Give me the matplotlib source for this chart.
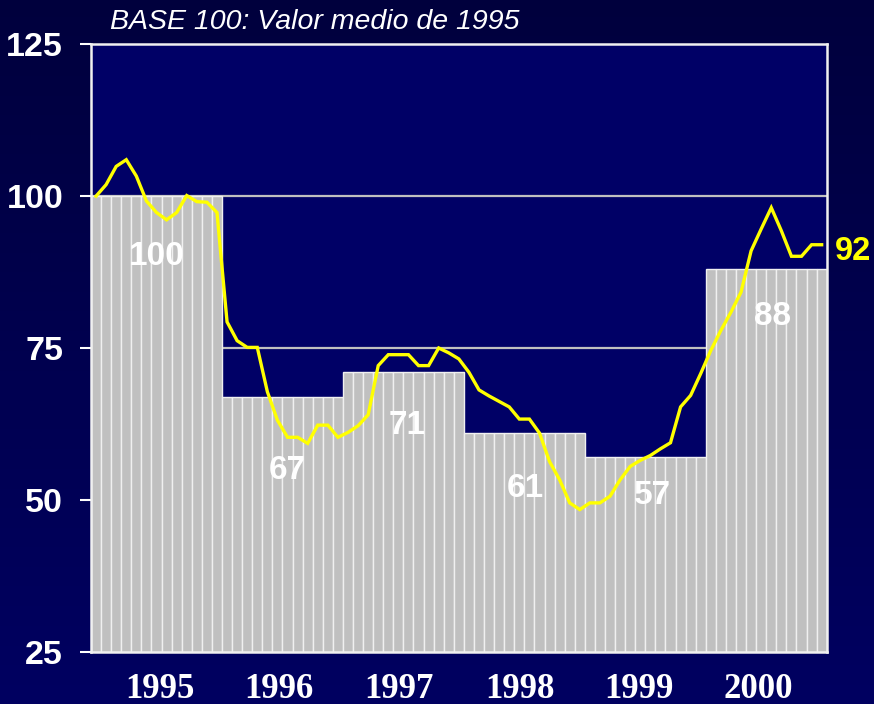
import numpy as np
import matplotlib
matplotlib.use("Agg")
import matplotlib.pyplot as plt

# ==========================================
# data
# ==========================================
years = ["1995", "1996", "1997", "1998", "1999", "2000"]
year_avg = [100, 67, 71, 61, 57, 88]
months_per_year = [13, 12, 12, 12, 12, 12]

# monthly index (yellow line), one point per bar
monthly = [100.0, 101.9, 104.9, 106.0, 103.3, 99.2, 97.3, 96.1, 97.3, 100.1, 99.1, 99.0, 97.3,
           79.3, 76.2, 75.1, 75.1, 67.8, 63.1, 60.3, 60.3, 59.3, 62.3, 62.3, 60.3,
           61.1, 62.2, 64.0, 72.1, 73.9, 73.9, 73.9, 72.1, 72.1, 75.0, 74.2, 73.2,
           71.0, 68.1, 67.1, 66.2, 65.3, 63.3, 63.3, 61.0, 56.3, 53.3, 49.5, 48.4,
           49.5, 49.5, 50.6, 53.3, 55.5, 56.5, 57.3, 58.4, 59.4, 65.3, 67.2, 70.8,
           74.6, 77.9, 80.9, 84.2, 91.0, 94.6, 98.1, 94.3, 90.1, 90.1, 92.0, 92.0]
last_label = "92"

title = "BASE 100: Valor medio de 1995"

# layout bits (not data)
label_y = [90.0, 54.8, 62.2, 51.8, 50.7, 80.2]
label_dx = [0.05, 0.5, 0.4, 0.05, 0.7, 0.65]
xtick_pos = [6.85, 18.65, 30.6, 42.6, 54.35, 66.25]

# ==========================================
# figure
# ==========================================
W, H = 874, 704
fig = plt.figure(figsize=(W / 100, H / 100), dpi=100)

# dark navy gradient background
bg = fig.add_axes([0, 0, 1, 1], zorder=-10)
grad = np.linspace(0, 1, 256).reshape(-1, 1)
top_c = np.array([0.0, 0.0, 0.24])
bot_c = np.array([0.0, 0.0, 0.38])
img = top_c + (bot_c - top_c) * grad[:, :, None]
bg.imshow(img, aspect="auto", extent=[0, 1, 0, 1], origin="upper")
bg.axis("off")

ax = fig.add_axes([91 / W, 1 - 651.7 / H, (826.7 - 91) / W, (651.7 - 44.3) / H])
ax.set_facecolor("#000066")

bar_vals = np.repeat(year_avg, months_per_year)
n = len(bar_vals)
x = np.arange(n)

# grid lines behind the bars
for g in [100, 75, 50]:
    ax.axhline(g, color="#c0c0c0", lw=1.6, zorder=1)

ax.bar(x + 0.5, bar_vals, width=1.0, color="#c0c0c0", edgecolor="#f0f0f0",
       linewidth=1.0, zorder=2)

ax.plot(x + 0.5, monthly, color="#ffff00", lw=2.4, zorder=4, solid_joinstyle="miter")

ax.set_xlim(0, n)
ax.set_ylim(25, 125)

# yearly labels on the bars
starts = np.cumsum([0] + months_per_year[:-1])
for s, m, v, ly, dx in zip(starts, months_per_year, year_avg, label_y, label_dx):
    ax.text(s + m / 2 + dx, ly, str(v), color="white", fontsize=24, fontweight="bold",
            family="Liberation Sans", ha="center", va="center", zorder=5)

# last monthly value, outside the frame
ax.text(n + 0.8, monthly[-1] - 1.1, last_label, color="#ffff00", fontsize=23.5,
        fontweight="bold", family="Liberation Sans", ha="left", va="center",
        clip_on=False)

# ticks
ax.set_yticks([25, 50, 75, 100, 125])
ax.set_yticklabels(["25", "50", "75", "100", "125"], color="white", fontsize=24.5,
                   fontweight="bold", family="Liberation Sans")
ax.tick_params(axis="y", direction="out", length=8, width=1.5, color="white", pad=12)

ax.set_xticks(xtick_pos)
ax.set_xticklabels(years, color="white", fontsize=25, fontweight="bold",
                   family="Liberation Serif")
ax.tick_params(axis="x", length=0, pad=15)

for side in ["left", "right", "top", "bottom"]:
    ax.spines[side].set_color("#f0f0f0")
    ax.spines[side].set_linewidth(1.8)
    ax.spines[side].set_zorder(6)

fig.text(110 / W, 1 - 22 / H, title, color="white", fontsize=20.5, style="italic",
         family="Liberation Sans", ha="left", va="center")

fig.savefig("out.png", dpi=100, facecolor=fig.get_facecolor())
